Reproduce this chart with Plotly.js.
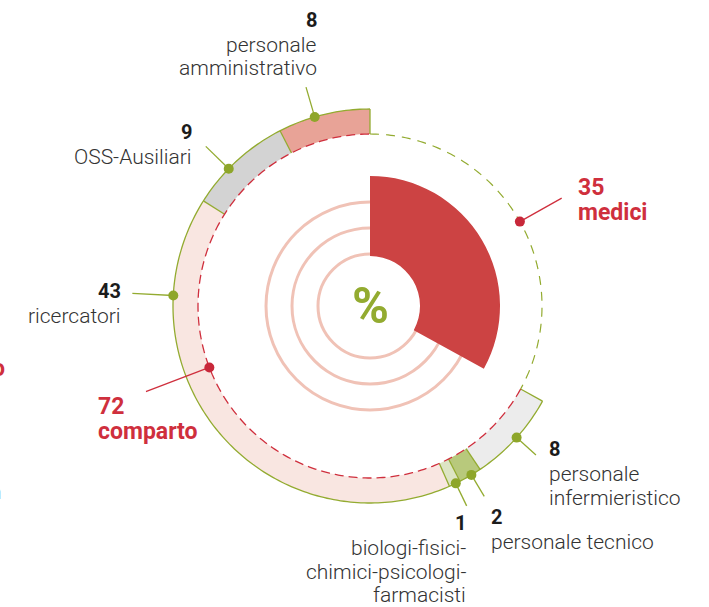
<!DOCTYPE html>
<html>
<head>
<meta charset="utf-8">
<script src="https://cdn.plot.ly/plotly-3.0.1.min.js"></script>
<style>
  html, body { margin: 0; padding: 0; background: #fff; }
  #chart { width: 709px; height: 607px; }
</style>
</head>
<body>
<div id="chart"></div>
<script>
// data
const groups = ['medici', 'comparto'];
const groupValues = [35, 72];
const roles = ['personale infermieristico', 'personale tecnico', 'biologi-fisici-chimici-psicologi-farmacisti',
               'ricercatori', 'OSS-Ausiliari', 'personale amministrativo'];
const roleValues = [8, 2, 1, 43, 9, 8];
const roleLines = [['personale', 'infermieristico'], ['personale tecnico'],
                   ['biologi-fisici-', 'chimici-psicologi-', 'farmacisti'],
                   ['ricercatori'], ['OSS-Ausiliari'], ['personale', 'amministrativo']];

// look
const roleColors = ['#ececec', '#b8c97c', '#dde5c4', '#f9e6e1', '#d3d3d3', '#e8a397'];
const W = 709, H = 607, CX = 370, CY = 306, RMAX = 240;
const R_IN = 172, R_OUT = 197;
const GREEN = '#93ab30', RED = '#cf2f3d', WEDGE = '#cc4343', CIRC = '#f0c2b6';

// where each leader leaves its segment (fraction along the arc) and how far out it reaches
const roleLeader = [[0.48, 223], [0.44, 222], [0.4, 222], [0.8, 238], [0.39, 229], [0.4, 228]];
const roleText = [
  {x: 547, y: 449, side: 'left'},
  {x: 489, y: 517, side: 'left'},
  {x: 468, y: 523, side: 'right'},
  {x: 123, y: 291, side: 'right'},
  {x: 194, y: 132, side: 'right'},
  {x: 319, y: 20, side: 'right'}
];
const groupLeader = [[0.51, 220], [0.54, 240]];
const groupText = [{x: 576, y: 187}, {x: 96, y: 406}];

const total = groupValues[0] + roleValues.reduce((a, b) => a + b, 0);
const deg = v => v / total * 360;
const medDeg = deg(groupValues[0]);

const starts = [], widths = [];
let acc = medDeg;
roleValues.forEach(v => { starts.push(acc); widths.push(deg(v)); acc += deg(v); });
const mids = starts.map((s, i) => s + widths[i] / 2);

function arc(r, t0, t1) {
  const rr = [], tt = [];
  const n = Math.max(2, Math.ceil(Math.abs(t1 - t0)));
  for (let i = 0; i <= n; i++) { rr.push(r); tt.push(t0 + (t1 - t0) * i / n); }
  return {r: rr, theta: tt};
}

const traces = [];

// big wedge for medici
traces.push({
  type: 'barpolar', r: [80], base: [50], theta: [medDeg / 2], width: [medDeg],
  marker: {color: WEDGE, line: {width: 0}}, hoverinfo: 'skip'
});

// comparto ring segments
traces.push({
  type: 'barpolar', r: roleValues.map(() => R_OUT - R_IN), base: roleValues.map(() => R_IN),
  theta: mids, width: widths,
  marker: {color: roleColors, line: {width: 0}}, hoverinfo: 'skip'
});

// outline of the ring
const outer = arc(R_OUT, medDeg, 360);
traces.push({type: 'scatterpolar', mode: 'lines', r: outer.r, theta: outer.theta,
  line: {color: GREEN, width: 1.3}, hoverinfo: 'skip'});
const sepR = [], sepT = [];
starts.concat([360]).forEach(t => { sepR.push(R_IN, R_OUT, null); sepT.push(t, t, null); });
traces.push({type: 'scatterpolar', mode: 'lines', r: sepR, theta: sepT,
  line: {color: GREEN, width: 1.3}, hoverinfo: 'skip'});

// dashed inner circle
const gArc = arc(R_IN, 0, medDeg);
traces.push({type: 'scatterpolar', mode: 'lines', r: gArc.r, theta: gArc.theta,
  line: {color: GREEN, width: 1.2, dash: '9px,7px'}, hoverinfo: 'skip'});
const rArc = arc(R_IN, medDeg, 360);
traces.push({type: 'scatterpolar', mode: 'lines', r: rArc.r, theta: rArc.theta,
  line: {color: RED, width: 1.3, dash: '9px,5px'}, hoverinfo: 'skip'});

const annotations = [];
const px = x => x / W, py = y => 1 - y / H;

// role leaders, dots and labels
roles.forEach((name, i) => {
  const t = starts[i] + widths[i] * roleLeader[i][0];
  traces.push({type: 'scatterpolar', mode: 'lines', r: [R_OUT, roleLeader[i][1]], theta: [t, t],
    line: {color: GREEN, width: 1.3}, hoverinfo: 'skip'});
  traces.push({type: 'scatterpolar', mode: 'markers', r: [R_OUT], theta: [t],
    marker: {color: '#8ea62a', size: 10}, hoverinfo: 'skip'});
  const p = roleText[i];
  annotations.push({x: px(p.x), y: py(p.y), xref: 'paper', yref: 'paper', xanchor: p.side, yanchor: 'middle',
    showarrow: false, text: String(roleValues[i]),
    font: {family: 'Roboto', size: 20, weight: 700, color: '#1c1c1c'}});
  roleLines[i].forEach((ln, k) => {
    annotations.push({x: px(p.x), y: py(p.y + 25 + k * 23.5), xref: 'paper', yref: 'paper',
      xanchor: p.side, yanchor: 'middle', showarrow: false, text: ln,
      font: {family: 'Roboto', size: 21, weight: 300, color: '#333333'}});
  });
});

// group leaders and labels
const groupSpan = [[0, medDeg], [medDeg, 360]];
groups.forEach((name, i) => {
  const t = groupSpan[i][0] + (groupSpan[i][1] - groupSpan[i][0]) * groupLeader[i][0];
  traces.push({type: 'scatterpolar', mode: 'lines', r: [R_IN, groupLeader[i][1]], theta: [t, t],
    line: {color: RED, width: 1.3}, hoverinfo: 'skip'});
  traces.push({type: 'scatterpolar', mode: 'markers', r: [R_IN], theta: [t],
    marker: {color: '#c8283a', size: 10}, hoverinfo: 'skip'});
  const p = groupText[i];
  annotations.push({x: px(p.x), y: py(p.y), xref: 'paper', yref: 'paper', xanchor: 'left', yanchor: 'middle',
    showarrow: false, text: String(groupValues[i]),
    font: {family: 'Roboto', size: 23, weight: 700, color: RED}});
  annotations.push({x: px(p.x), y: py(p.y + 25), xref: 'paper', yref: 'paper', xanchor: 'left', yanchor: 'middle',
    showarrow: false, text: name,
    font: {family: 'Roboto', size: 23, weight: 700, color: RED}});
});

// percent sign in the middle
annotations.push({x: px(CX), y: py(CY), xref: 'paper', yref: 'paper', xanchor: 'center', yanchor: 'middle',
  showarrow: false, text: '%', font: {family: 'Roboto', size: 50, weight: 700, color: '#93ab30'}});

// bits of neighbouring labels cut off at the left edge
annotations.push({x: px(7), y: py(368), xref: 'paper', yref: 'paper', xanchor: 'right', yanchor: 'middle',
  showarrow: false, text: 'o', font: {family: 'Roboto', size: 23, weight: 700, color: RED}});
annotations.push({x: px(4), y: py(492), xref: 'paper', yref: 'paper', xanchor: 'right', yanchor: 'middle',
  showarrow: false, text: 'n', font: {family: 'Roboto', size: 21, weight: 300, color: '#333333'}});

const layout = {
  width: W, height: H,
  margin: {l: 0, r: 0, t: 0, b: 0},
  paper_bgcolor: '#ffffff',
  showlegend: false,
  hovermode: false,
  polar: {
    domain: {x: [(CX - RMAX) / W, (CX + RMAX) / W], y: [(H - CY - RMAX) / H, (H - CY + RMAX) / H]},
    bgcolor: 'rgba(0,0,0,0)',
    radialaxis: {range: [0, RMAX], tickvals: [52, 78, 104], showticklabels: false, ticks: '',
      showline: false, gridcolor: CIRC, gridwidth: 3},
    angularaxis: {rotation: 90, direction: 'clockwise', showgrid: false, showline: false,
      showticklabels: false, ticks: ''}
  },
  annotations: annotations
};

Plotly.newPlot('chart', traces, layout, {staticPlot: true, displayModeBar: false});
</script>
</body>
</html>
